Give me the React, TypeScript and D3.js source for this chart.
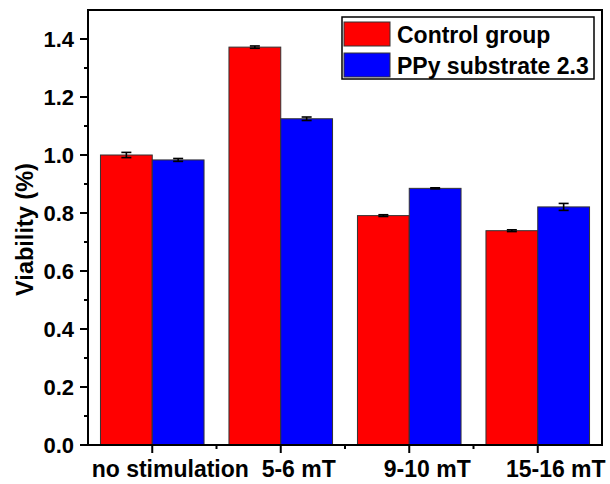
import React from "react";
import * as d3 from "d3";

const categories = ["no stimulation", "5-6 mT", "9-10 mT", "15-16 mT"];
const seriesNames = ["Control group", "PPy substrate 2.3"];
const seriesColors = ["#ff0000", "#0000ff"];
const controlValues = [1.0, 1.372, 0.791, 0.739];
const controlErrors = [0.009, 0.004, 0.003, 0.003];
const ppyValues = [0.983, 1.125, 0.885, 0.821];
const ppyErrors = [0.005, 0.006, 0.002, 0.012];
const yTicks = [0, 0.2, 0.4, 0.6, 0.8, 1.0, 1.2, 1.4];

const W = 610;
const H = 484;
const margin = { left: 88, right: 8, top: 10, bottom: 39 };
const FONT = "'Liberation Sans', Arial, sans-serif";

export default function App() {
  const x = d3
    .scaleLinear()
    .domain([-0.5, categories.length - 0.5])
    .range([margin.left, W - margin.right]);
  const y = d3
    .scaleLinear()
    .domain([0, 1.5])
    .range([H - margin.bottom, margin.top]);

  const barW = 0.403;
  const series = [
    { values: controlValues, errors: controlErrors, offset: -barW },
    { values: ppyValues, errors: ppyErrors, offset: 0 },
  ];

  const minorY = d3.range(0.1, 1.5, 0.2);
  const minorX = d3.range(0.5, categories.length - 1, 1);
  const x0 = margin.left;
  const y0 = H - margin.bottom;

  return (
    <svg
      width={W}
      height={H}
      style={{ position: "absolute", left: 0, top: 0, background: "#fff" }}
      fontFamily={FONT}
    >
      {/* bars */}
      {series.map((s, si) =>
        s.values.map((v, i) => (
          <rect
            key={`b${si}-${i}`}
            x={x(i + s.offset)}
            y={y(v)}
            width={x(i + s.offset + barW) - x(i + s.offset)}
            height={y(0) - y(v)}
            fill={seriesColors[si]}
            stroke="#333"
            strokeWidth={1}
          />
        ))
      )}
      {/* error bars */}
      {series.map((s, si) =>
        s.values.map((v, i) => {
          const cx = x(i + s.offset + barW / 2);
          const e = s.errors[i];
          return (
            <g key={`e${si}-${i}`} stroke="#000" strokeWidth={1.6}>
              <line x1={cx} x2={cx} y1={y(v + e)} y2={y(v - e)} />
              <line x1={cx - 5} x2={cx + 5} y1={y(v + e)} y2={y(v + e)} />
              <line x1={cx - 5} x2={cx + 5} y1={y(v - e)} y2={y(v - e)} />
            </g>
          );
        })
      )}

      {/* frame */}
      <rect
        x={x0}
        y={margin.top}
        width={W - margin.right - x0}
        height={y0 - margin.top}
        fill="none"
        stroke="#000"
        strokeWidth={2}
      />

      {/* y ticks */}
      {yTicks.map((t) => (
        <g key={`yt${t}`}>
          <line x1={x0 - 8} x2={x0} y1={y(t)} y2={y(t)} stroke="#000" strokeWidth={2} />
          <text
            x={x0 - 14}
            y={y(t)}
            dy="0.36em"
            textAnchor="end"
            fontSize={22}
            fontWeight="bold"
          >
            {t.toFixed(1)}
          </text>
        </g>
      ))}
      {minorY.map((t) => (
        <line key={`ym${t}`} x1={x0 - 4} x2={x0} y1={y(t)} y2={y(t)} stroke="#000" strokeWidth={2} />
      ))}

      {/* x ticks */}
      {categories.map((c, i) => (
        <g key={`xt${i}`}>
          <line x1={x(i)} x2={x(i)} y1={y0} y2={y0 + 8} stroke="#000" strokeWidth={2} />
          <text
            x={x(i) + 18}
            y={y0 + 32}
            textAnchor="middle"
            fontSize={23}
            fontWeight="bold"
          >
            {c}
          </text>
        </g>
      ))}
      {minorX.map((t) => (
        <line key={`xm${t}`} x1={x(t)} x2={x(t)} y1={y0} y2={y0 + 4} stroke="#000" strokeWidth={2} />
      ))}

      {/* y axis title */}
      <text
        transform={`translate(33, ${(margin.top + y0) / 2 + 2}) rotate(-90)`}
        textAnchor="middle"
        fontSize={23.5}
        fontWeight="bold"
      >
        Viability (%)
      </text>

      {/* legend */}
      <g>
        <rect x={342} y={17} width={252} height={62} fill="#fff" stroke="#000" strokeWidth={1.5} />
        {seriesNames.map((n, i) => (
          <g key={`lg${i}`} transform={`translate(344, ${22 + i * 31})`}>
            <rect width={46} height={24} fill={seriesColors[i]} stroke="#333" strokeWidth={1} />
            <text x={53} y={21} fontSize={23} fontWeight="bold">
              {n}
            </text>
          </g>
        ))}
      </g>
    </svg>
  );
}
